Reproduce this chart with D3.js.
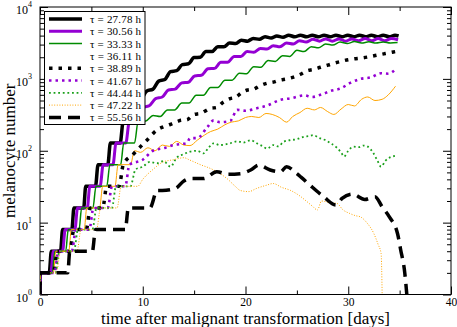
<!DOCTYPE html>
<html><head><meta charset="utf-8">
<script src="https://cdn.jsdelivr.net/npm/d3@7"></script>
<style>
html,body{margin:0;padding:0;background:#fff;}
svg{display:block;font-family:"Liberation Serif","Times New Roman",serif;}
</style></head>
<body><svg id="c" width="457" height="327"></svg>
<script>
// ---- data (time in days, melanocyte number) ----
const xTicks = [0, 10, 20, 30, 40];
const xMinorTicks = [5, 15, 25, 35];
const yDecades = [1, 10, 100, 1000, 10000];
const labels = ["τ = 27.78 h","τ = 30.56 h","τ = 33.33 h","τ = 36.11 h","τ = 38.89 h","τ = 41.67 h","τ = 44.44 h","τ = 47.22 h","τ = 55.56 h"];

const T2778 = [[0,1],[0.02,2],[0.9,2],[1.1,4],[2.0,4],[2.2,8],[3.1,8],[3.3,16],[4.25,16],[4.45,32],[5.4,32],[5.65,64],[6.6,64],[6.85,128],[7.8,128],[8.1,256],[8.95,256],[9.25,470],[9.85,520],[10.4,680],[11.0,720],[11.55,930],[12.15,980],[12.7,1260],[13.3,1300],[13.85,1580],[14.45,1620],[15.0,1980],[15.6,2000],[16.15,2400],[16.75,2400],[17.3,2800],[17.9,2800],[18.45,3150],[19.05,3100],[19.6,3450],[20.2,3350],[20.75,3650],[21.35,3550],[21.9,3850],[22.5,3700],[23.05,3950],[23.65,3800],[24.2,4050],[24.8,3850],[25.35,4050],[25.95,3850],[26.5,4050],[27.1,3850],[27.65,4050],[28.25,3850],[28.8,4050],[29.4,3850],[29.95,4050],[30.55,3850],[31.1,4050],[31.7,3850],[32.25,4050],[32.85,3850],[33.4,4050],[34.0,3850],[34.55,4050],[34.9,3950]];
const T3056 = [[0,1],[0.02,2],[1.05,2],[1.3,4],[2.2,4],[2.45,8],[3.4,8],[3.65,16],[4.6,16],[4.85,32],[5.85,32],[6.15,64],[7.1,64],[7.4,128],[8.35,128],[8.7,256],[9.6,256],[9.95,400],[10.6,420],[11.25,530],[11.9,560],[12.5,700],[13.15,720],[13.8,880],[14.45,900],[15.05,1100],[15.7,1120],[16.35,1380],[17.0,1400],[17.6,1700],[18.25,1700],[18.9,2050],[19.55,2050],[20.15,2400],[20.8,2350],[21.45,2650],[22.1,2600],[22.7,2900],[23.35,2800],[24.0,3150],[24.65,3050],[25.25,3400],[25.9,3250],[26.55,3550],[27.2,3350],[27.8,3600],[28.45,3350],[29.1,3600],[29.75,3350],[30.35,3600],[31.0,3400],[31.65,3650],[32.3,3400],[32.9,3650],[33.55,3400],[34.2,3650],[34.85,3500]];
const T3333 = [[0,1],[0.02,2],[1.2,2],[1.45,4],[2.5,4],[2.75,8],[3.8,8],[4.05,16],[5.15,16],[5.45,32],[6.5,32],[6.8,64],[7.85,64],[8.15,128],[9.2,128],[9.55,256],[10.3,260],[11.0,310],[11.7,300],[12.4,370],[13.1,370],[13.8,460],[14.5,460],[15.2,590],[15.9,590],[16.6,760],[17.3,760],[18.0,960],[18.7,960],[19.4,1200],[20.1,1180],[20.8,1480],[21.5,1450],[22.2,1800],[22.9,1750],[23.6,2100],[24.3,2050],[25.0,2500],[25.7,2400],[26.4,2800],[27.1,2700],[27.8,3050],[28.5,2950],[29.2,3250],[29.9,3100],[30.6,3300],[31.3,3150],[32.0,3280],[32.7,3150],[33.4,3250],[34.1,3150],[34.8,3200]];
const T3611 = [[0,1],[0.02,2],[1.3,2],[1.55,4],[2.8,4],[3.05,8],[4.3,8],[4.55,16],[5.8,16],[6.1,32],[7.3,32],[7.6,64],[8.8,64],[9.2,100],[9.8,95],[10.5,110],[11.2,100],[11.9,120],[12.6,115],[13.3,135],[14.0,120],[14.6,118],[15.3,140],[16.0,165],[16.6,185],[17.3,200],[18.0,230],[18.6,250],[19.3,260],[20.0,290],[20.6,300],[21.3,290],[22.0,330],[22.6,320],[23.3,290],[24.0,250],[24.6,300],[25.3,340],[26.0,390],[26.7,370],[27.3,400],[28.0,350],[28.6,320],[29.3,380],[30.0,440],[30.6,420],[31.3,520],[31.9,560],[32.6,500],[33.3,520],[33.9,600],[34.6,790]];
const T3889 = [[0,1],[0.02,2],[1.3,2],[1.7,4],[2.9,4],[3.3,8],[4.5,8],[4.9,16],[6.1,16],[6.5,32],[7.7,32],[8.1,64],[9.1,90],[9.8,115],[10.4,140],[11.4,195],[12.0,215],[12.6,230],[13.2,250],[13.7,265],[14.3,270],[15.0,320],[15.6,330],[16.6,390],[17.2,400],[17.8,470],[18.5,530],[19.1,560],[19.6,640],[20.2,700],[20.8,720],[21.4,800],[22.1,870],[22.7,900],[23.3,960],[24.0,1000],[24.6,1050],[25.3,1150],[26.0,1300],[26.6,1350],[27.3,1450],[28.0,1550],[28.6,1650],[29.3,1750],[30.0,1850],[30.6,1900],[31.3,1950],[32.2,2050],[32.9,2150],[33.6,2250],[34.6,2400]];
const T4167 = [[0,1],[0.02,2],[1.4,2],[1.8,4],[3.1,4],[3.5,8],[4.8,8],[5.2,16],[6.6,16],[7.0,32],[8.3,32],[8.7,64],[10.0,75],[11.0,100],[12.2,110],[13.0,120],[14.3,128],[14.6,150],[15.3,150],[16.3,215],[16.9,265],[17.5,250],[18.5,260],[19.2,370],[20.0,360],[21.1,390],[22.0,420],[23.4,510],[24.5,540],[25.7,590],[26.5,560],[27.3,600],[28.3,680],[29.3,740],[30.2,880],[31.2,1000],[32.2,1050],[33.2,1200],[33.9,1180],[34.6,1360]];
const T4444 = [[0,1],[0.02,2],[1.5,2],[1.9,4],[3.3,4],[3.7,8],[5.1,8],[5.5,16],[7.0,16],[7.4,32],[8.8,32],[9.3,55],[10.0,60],[10.7,70],[11.4,67],[12.0,72],[12.7,60],[13.3,80],[14.0,90],[14.6,97],[15.3,100],[15.9,92],[16.4,110],[16.9,127],[17.5,120],[18.5,127],[19.2,135],[19.8,130],[20.5,140],[21.2,125],[21.7,115],[22.1,107],[22.7,120],[23.2,115],[23.7,133],[24.3,140],[25.0,145],[25.7,157],[26.2,160],[26.6,165],[27.2,150],[27.8,140],[28.3,127],[28.9,110],[29.3,95],[29.6,83],[30.0,100],[30.5,114],[31.0,112],[31.5,118],[31.9,114],[32.4,95],[32.8,75],[33.2,60],[33.6,72],[34.0,80],[34.6,85]];
const T4722 = [[0,1],[0.02,2],[1.6,2],[2.0,4],[3.6,4],[4.0,8],[5.5,8],[5.9,16],[7.5,16],[7.9,32],[9.5,32],[10.0,40],[11.0,55],[12.0,70],[13.0,75],[14.0,80],[14.6,74],[15.5,65],[16.9,54],[18.2,41],[19.0,32],[19.5,28],[20.3,27],[21.1,30],[22.0,33],[22.7,35],[23.5,31],[24.4,28],[25.2,24],[26.0,19.5],[26.5,17],[27.0,15],[27.4,20],[28.2,19],[28.9,18.5],[29.5,15],[30.1,13.5],[30.7,12.5],[31.2,12],[31.8,10],[32.5,7],[32.9,5],[33.2,3.7],[33.3,1]];
const T5556 = [[0,1],[0.02,2],[2.7,2],[2.9,4],[5.1,4],[5.4,8],[8.3,8],[8.6,16],[10.7,16],[11.4,28],[11.9,28],[13.2,30],[14.0,38],[14.6,41],[15.9,41],[17.2,51],[18.3,47],[19.5,48],[20.5,54],[21.3,63],[22.4,54],[23.4,51],[24.0,60],[25.0,48],[25.4,43],[26.3,33],[27.6,23],[28.8,17.6],[29.4,21.7],[30.4,25],[31.6,21],[32.6,23],[33.3,16.6],[34.0,12],[34.8,7],[35.1,4.2],[35.5,2],[35.7,1]];

// ---- styles (separate from data) ----
const seriesData = [T2778, T3056, T3333, T3611, T3889, T4167, T4444, T4722, T5556];
const colors = ["#000000","#9400d3","#008b00","#ffa500","#000000","#9400d3","#1aa01a","#ffa500","#000000"];
const widths = [3.5, 3, 1.5, 1, 3.5, 2.6, 1.8, 1, 3.5];
const dashes = [null, null, null, null, "3.5,6", "2.5,4", "1.8,2.8", "1,1.6", "12,7"];
const legendShown = [true, true, true, false, true, true, true, true, true];

const svg = d3.select("#c");
const L = 40, R = 451, T = 7, B = 294.5;
const x = d3.scaleLinear().domain([0, 40]).range([L, R]);
const y = d3.scaleLog().domain([1, 10000]).range([B, T]);

svg.append("defs").append("clipPath").attr("id","clip")
  .append("rect").attr("x", L).attr("y", T).attr("width", R - L).attr("height", B - T);

// axes
function strip(g){ g.select(".domain").remove(); g.selectAll("line").attr("stroke","#000"); }
svg.append("g").attr("transform",`translate(0,${B})`)
  .call(d3.axisBottom(x).tickValues(xTicks).tickSizeInner(-8).tickSizeOuter(0).tickPadding(3).tickFormat(d3.format("d")))
  .call(strip)
  .call(g => g.selectAll("text").attr("font-size", 11.5).attr("font-family","Liberation Serif").attr("fill","#000"));
svg.append("g").attr("transform",`translate(0,${B})`)
  .call(d3.axisBottom(x).tickValues(xMinorTicks).tickSizeInner(-4).tickSizeOuter(0).tickFormat(""))
  .call(strip);
svg.append("g").attr("transform",`translate(0,${T})`)
  .call(d3.axisTop(x).tickValues(xTicks).tickSizeInner(-8).tickSizeOuter(0).tickFormat(""))
  .call(strip);
svg.append("g").attr("transform",`translate(0,${T})`)
  .call(d3.axisTop(x).tickValues(xMinorTicks).tickSizeInner(-4).tickSizeOuter(0).tickFormat(""))
  .call(strip);

const yMinor = y.ticks().filter(v => !yDecades.includes(v));
svg.append("g").attr("transform",`translate(${L},0)`)
  .call(d3.axisLeft(y).tickValues(yDecades).tickSizeInner(-8).tickSizeOuter(0).tickFormat(""))
  .call(strip);
svg.append("g").attr("transform",`translate(${L},0)`)
  .call(d3.axisLeft(y).tickValues(yMinor).tickSizeInner(-4).tickSizeOuter(0).tickFormat(""))
  .call(strip);
svg.append("g").attr("transform",`translate(${R},0)`)
  .call(d3.axisRight(y).tickValues(yDecades).tickSizeInner(-8).tickSizeOuter(0).tickFormat(""))
  .call(strip);
svg.append("g").attr("transform",`translate(${R},0)`)
  .call(d3.axisRight(y).tickValues(yMinor).tickSizeInner(-4).tickSizeOuter(0).tickFormat(""))
  .call(strip);

// y labels 10^n
yDecades.forEach(v => {
  const t = svg.append("text").attr("x", 32).attr("y", y(v) + 7)
    .attr("text-anchor","end").attr("font-size", 12).attr("fill","#000");
  t.append("tspan").text("10");
  t.append("tspan").attr("font-size", 8).attr("dy", -7).text(String(Math.round(Math.log10(v))));
});

// frame
svg.append("rect").attr("x", L).attr("y", T).attr("width", R - L).attr("height", B - T)
  .attr("fill","none").attr("stroke","#000").attr("stroke-width",1);

// lines
const line = d3.line().x(d => x(d[0])).y(d => y(d[1])).curve(d3.curveMonotoneX);
const gl = svg.append("g").attr("clip-path","url(#clip)");
seriesData.forEach((s, i) => {
  gl.append("path").datum(s).attr("d", line)
    .attr("fill","none").attr("stroke", colors[i]).attr("stroke-width", widths[i])
    .attr("stroke-dasharray", dashes[i]).attr("stroke-linejoin","round");
});

// legend
const lg = svg.append("g");
lg.append("rect").attr("x", 44.5).attr("y", 11.5).attr("width", 100.5).attr("height", 113)
  .attr("fill","#fff").attr("stroke","#000").attr("stroke-width",1);
labels.forEach((lab, i) => {
  const yy = 19 + i * 12.3;
  if (legendShown[i]) {
    lg.append("line").attr("x1", 49).attr("x2", 82).attr("y1", yy).attr("y2", yy)
      .attr("stroke", colors[i]).attr("stroke-width", widths[i]).attr("stroke-dasharray", dashes[i]);
  }
  lg.append("text").attr("x", 90).attr("y", yy + 4).attr("font-size", 11).attr("fill","#000")
    .attr("textLength", 51).attr("lengthAdjust","spacing").text(lab);
});

// axis titles
svg.append("text").attr("x", (L + R) / 2).attr("y", 324).attr("text-anchor","middle")
  .attr("font-size", 17).attr("fill","#000").text("time after malignant transformation [days]");
svg.append("text").attr("transform",`translate(15,${(T + B) / 2}) rotate(-90)`).attr("text-anchor","middle")
  .attr("font-size", 17).attr("fill","#000").text("melanocyte number");
</script></body></html>
